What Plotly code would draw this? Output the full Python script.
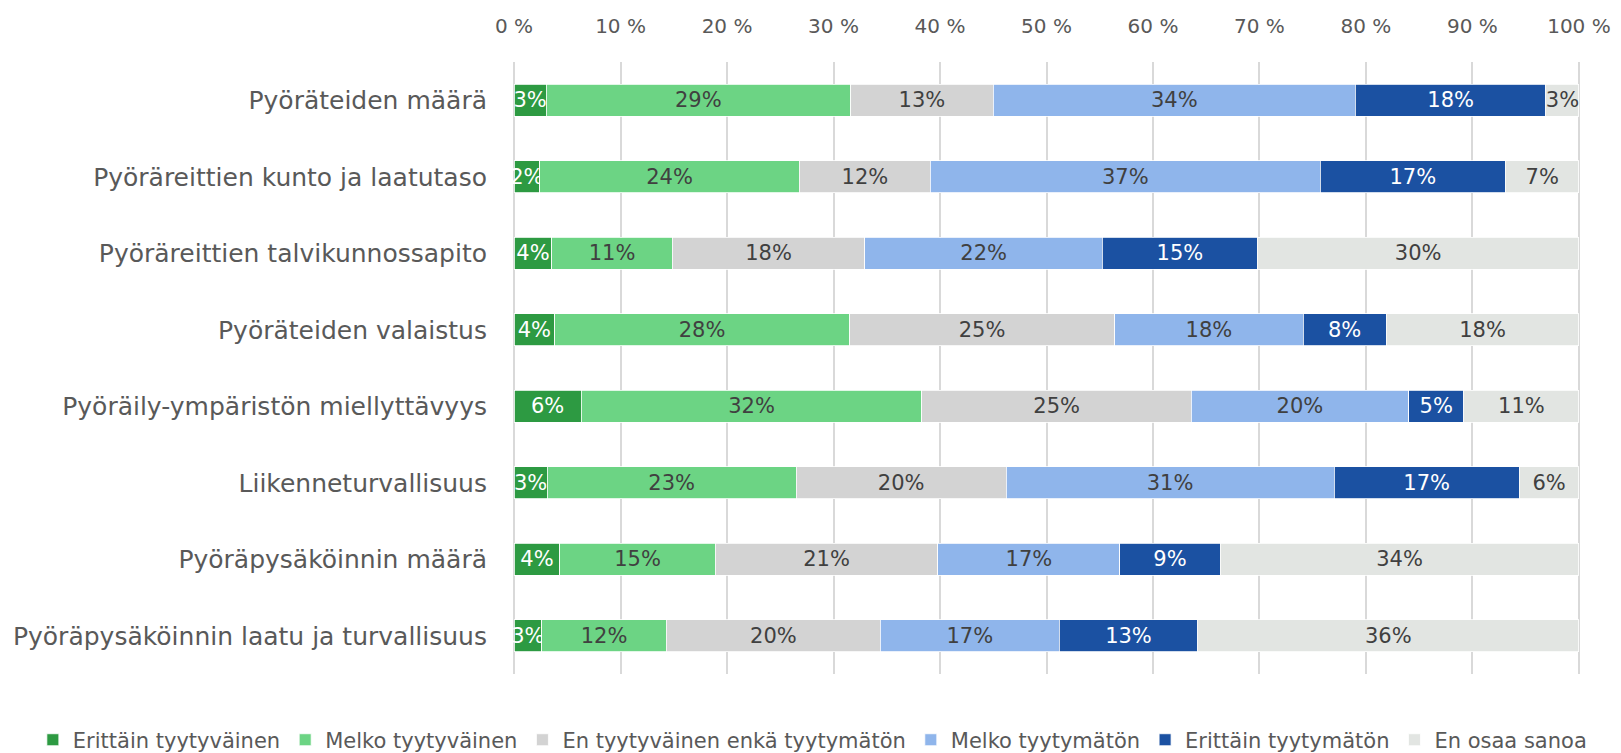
import plotly.graph_objects as go

# Satisfaction with cycling conditions, share of respondents (%)
categories = [
    "Pyöräteiden määrä",
    "Pyöräreittien kunto ja laatutaso",
    "Pyöräreittien talvikunnossapito",
    "Pyöräteiden valaistus",
    "Pyöräily-ympäristön miellyttävyys",
    "Liikenneturvallisuus",
    "Pyöräpysäköinnin määrä",
    "Pyöräpysäköinnin laatu ja turvallisuus",
]

series_names = [
    "Erittäin tyytyväinen",
    "Melko tyytyväinen",
    "En tyytyväinen enkä tyytymätön",
    "Melko tyytymätön",
    "Erittäin tyytymätön",
    "En osaa sanoa",
]

erittain_tyytyvainen = [3.0, 2.4, 3.55, 3.8, 6.3, 3.1, 4.3, 2.6]
melko_tyytyvainen = [28.6, 24.4, 11.3, 27.7, 32.0, 23.4, 14.6, 11.7]
neutraali = [13.4, 12.3, 18.1, 24.9, 25.3, 19.7, 20.9, 20.1]
melko_tyytymaton = [34.0, 36.6, 22.3, 17.7, 20.4, 30.8, 17.1, 16.8]
erittain_tyytymaton = [17.9, 17.4, 14.55, 7.8, 5.2, 17.4, 9.4, 13.0]
en_osaa_sanoa = [3.1, 6.9, 30.2, 18.1, 10.8, 5.6, 33.7, 35.8]

x_ticks = [0, 10, 20, 30, 40, 50, 60, 70, 80, 90, 100]
x_tick_labels = [f"{v} %" for v in x_ticks]

values = [erittain_tyytyvainen, melko_tyytyvainen, neutraali,
          melko_tyytymaton, erittain_tyytymaton, en_osaa_sanoa]
colors = ["#2D9A42", "#6CD484", "#D3D3D3", "#8FB5EB", "#1B51A2", "#E2E5E2"]
text_colors = ["white", "#404040", "#404040", "#404040", "white", "#404040"]

FONT = "DejaVu Sans"

fig = go.Figure()
for name, vals, col, tcol in zip(series_names, values, colors, text_colors):
    fig.add_trace(go.Bar(
        y=categories, x=vals, name=name, orientation="h",
        marker=dict(color=col, line=dict(color="white", width=0.8)),
        texttemplate="%{x:.0f}%", textposition="inside",
        insidetextanchor="middle", textangle=0,
        textfont=dict(family=FONT, size=21, color=tcol),
        hoverinfo="skip",
    ))

fig.update_layout(
    barmode="stack", bargap=0.58,
    width=1621, height=753,
    margin=dict(l=513, r=41, t=62, b=79, autoexpand=False),
    paper_bgcolor="white", plot_bgcolor="white",
    font=dict(family=FONT, color="#595959"),
    uniformtext=dict(minsize=21, mode="show"),
    legend=dict(
        orientation="h", x=-0.45, xanchor="left", y=-0.108, yanchor="middle",
        font=dict(family=FONT, size=21, color="#595959"),
        itemwidth=30, traceorder="normal",
    ),
    showlegend=True,
)
fig.update_xaxes(
    side="top", range=[-0.1, 100.1], tickmode="array",
    tickvals=x_ticks, ticktext=x_tick_labels,
    showgrid=True, gridcolor="#D9D9D9", gridwidth=1.5,
    zeroline=False, showline=False, ticks="",
    tickfont=dict(family=FONT, size=20, color="#595959"),
    ticklabelstandoff=24, fixedrange=True,
)
fig.update_yaxes(
    autorange="reversed", showgrid=False, zeroline=False, showline=False,
    ticks="", tickfont=dict(family=FONT, size=25, color="#595959"),
    ticklabelstandoff=25, fixedrange=True,
)

# drop the browser's default page margin so the figure sits at (0, 0)
fig.write_html("out.html", config={"displayModeBar": False},
               post_script="document.body.style.margin = '0';")
